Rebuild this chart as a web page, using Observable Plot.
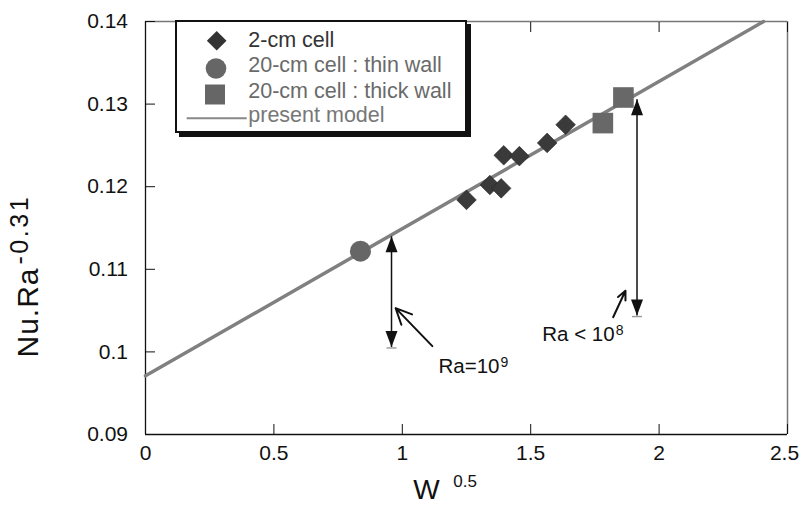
<!DOCTYPE html>
<html><head><meta charset="utf-8">
<script src="https://cdn.jsdelivr.net/npm/d3@7"></script>
<script src="https://cdn.jsdelivr.net/npm/@observablehq/plot@0.6"></script>
<style>
html,body{margin:0;padding:0;background:#fff;}
#chart{width:800px;height:506px;position:relative;}
</style></head><body><div id="chart"></div>
<script>
// ---- data ----
const cell2X = [1.250, 1.341, 1.385, 1.395, 1.456, 1.564, 1.636];
const cell2Y = [0.1184, 0.1202, 0.1198, 0.1238, 0.1237, 0.1253, 0.1275];
const thinX = [0.837];
const thinY = [0.1122];
const thickX = [1.781, 1.861];
const thickY = [0.1277, 0.1308];
const modelX = [0, 2.407];
const modelY = [0.0971, 0.14];
const rangeX = [0.958, 1.914];
const rangeLow = [0.1006, 0.1044];
const rangeHigh = [0.1140, 0.1306];
const pointerFromX = [1.117, 1.821];
const pointerFromY = [0.1007, 0.1042];
const pointerToX = [0.974, 1.869];
const pointerToY = [0.1053, 0.1074];
const noteText = ["Ra=10^9", "Ra < 10^8"];
const noteX = [1.141, 1.545];
const noteY = [0.0974, 0.1013];
const xTicks = [0, 0.5, 1, 1.5, 2, 2.5];
const xTickLabels = ["0", "0.5", "1", "1.5", "2", "2.5"];
const yTicks = [0.09, 0.10, 0.11, 0.12, 0.13, 0.14];
const yTickLabels = ["0.09", "0.1", "0.11", "0.12", "0.13", "0.14"];
const xLabel = "W^0.5";
const yLabel = "Nu.Ra^-0.31";
const legendLabels = ["2-cm cell", "20-cm cell : thin wall", "20-cm cell : thick wall", "present model"];

// ---- build tables ----
const cell2 = cell2X.map((x, i) => ({x, y: cell2Y[i]}));
const thin = thinX.map((x, i) => ({x, y: thinY[i]}));
const thick = thickX.map((x, i) => ({x, y: thickY[i]}));
const model = modelX.map((x, i) => ({x, y: modelY[i]}));
const ranges = rangeX.map((x, i) => ({x, lo: rangeLow[i], hi: rangeHigh[i]}));
const pointers = pointerFromX.map((x, i) => ({x1: x, y1: pointerFromY[i], x2: pointerToX[i], y2: pointerToY[i]}));
const notes = noteText.map((t, i) => ({t, x: noteX[i], y: noteY[i]}));

// custom symbols (pixel sizes)
const diamondSym = {draw(c){c.moveTo(0,-9.8);c.lineTo(9.8,0);c.lineTo(0,9.8);c.lineTo(-9.8,0);c.closePath();}};
const squareSym = {draw(c){c.rect(-10.3,-10.3,20.6,20.6);}};
const headUp = {draw(c){c.moveTo(0,0);c.lineTo(6,16);c.lineTo(-6,16);c.closePath();}};
const headDown = {draw(c){c.moveTo(0,0);c.lineTo(6,-16);c.lineTo(-6,-16);c.closePath();}};
const footTick = {draw(c){c.rect(-5,0.3,10,1.4);}};

const FONT = "'Liberation Sans', Arial, Helvetica, sans-serif";

const plot = Plot.plot({
  width: 800, height: 506,
  marginLeft: 145, marginRight: 13, marginTop: 21, marginBottom: 72,
  style: {fontFamily: FONT, background: "#fff", color: "#111"},
  x: {domain: [0, 2.5]},
  y: {domain: [0.09, 0.14]},
  marks: [
    Plot.ruleX([2.5], {stroke: "#777", strokeWidth: 1.5}),
    Plot.ruleY([0.14], {stroke: "#777", strokeWidth: 1.5}),
    Plot.ruleX([0], {stroke: "#111", strokeWidth: 1.3}),
    Plot.ruleY([0.09], {stroke: "#111", strokeWidth: 1.3}),
    Plot.axisX({ticks: xTicks, tickSize: -10, tickPadding: 20.5, fontSize: 21, label: null,
      tickFormat: d => xTickLabels[xTicks.indexOf(d)]}),
    Plot.axisX({anchor: "top", ticks: xTicks, tickSize: -10, tickFormat: () => "", label: null}),
    Plot.axisY({ticks: yTicks, tickSize: -10, tickPadding: 27.5, fontSize: 21, label: null,
      tickFormat: d => yTickLabels[yTicks.findIndex(t => Math.abs(t - d) < 1e-9)]}),
    Plot.line(model, {x: "x", y: "y", stroke: "#808080", strokeWidth: 3.5}),
    Plot.link(ranges, {x1: "x", x2: "x", y1: "lo", y2: "hi", stroke: "#111", strokeWidth: 1.5}),
    Plot.arrow(pointers, {x1: "x1", y1: "y1", x2: "x2", y2: "y2", stroke: "#111", strokeWidth: 2,
      headLength: 14, headAngle: 50}),
    Plot.dot(cell2, {x: "x", y: "y", symbol: diamondSym, fill: "#3a3a3a", stroke: "#222", strokeWidth: 0.6}),
    Plot.dot(thin, {x: "x", y: "y", r: 10.5, fill: "#666", stroke: null}),
    Plot.dot(thick, {x: "x", y: "y", symbol: squareSym, fill: "#686868", stroke: null}),
    Plot.dot(ranges, {x: "x", y: "hi", symbol: headUp, fill: "#111", stroke: null}),
    Plot.dot(ranges, {x: "x", y: "lo", symbol: headDown, fill: "#111", stroke: null}),
    Plot.dot(ranges, {x: "x", y: "lo", symbol: footTick, fill: "#999", stroke: null}),
    Plot.text(notes, {x: "x", y: "y", text: "t", textAnchor: "start", lineAnchor: "bottom", fontSize: 20.5, fill: "#111"}),
    Plot.text([xLabel], {frameAnchor: "bottom-left", dx: 267.7, dy: 64.5, textAnchor: "start", lineAnchor: "bottom", fontSize: 28, fill: "#111"}),
    Plot.text([yLabel], {frameAnchor: "left", rotate: -90, dx: -108, dy: 129.5, textAnchor: "start", lineAnchor: "bottom", fontSize: 30, fill: "#111"})
  ]
});

// superscripts
const supStyle = {
  "W^0.5": {size: 17, dy: -11.7, dx: 13.7, ls: 0, baseLs: 0},
  "Nu.Ra^-0.31": {size: 25, dy: -10, dx: 3, ls: 2.5, baseLs: 1},
  "Ra=10^9": {size: 14, dy: -6.5, dx: 1, ls: 0, baseLs: 0},
  "Ra < 10^8": {size: 14, dy: -6.5, dx: 1, ls: 0, baseLs: 0}
};
d3.select(plot).selectAll("text").each(function() {
  const s = this.textContent;
  if (s === "2.5") { this.setAttribute("dx", -3); return; }
  if (!s.includes("^")) return;
  const [base, sup] = s.split("^");
  const st = supStyle[s] || {size: 14, dy: -6, dx: 1, ls: 0, baseLs: 0};
  this.textContent = "";
  d3.select(this).append("tspan").attr("letter-spacing", st.baseLs).text(base);
  d3.select(this).append("tspan").attr("font-size", st.size).attr("letter-spacing", st.ls)
    .attr("dy", st.dy).attr("dx", st.dx).text(sup);
});

// legend
const svg = d3.select(plot);
const lg = svg.append("g").attr("font-family", FONT).attr("text-anchor", "start");
lg.append("rect").attr("x", 179).attr("y", 24).attr("width", 292).attr("height", 113).attr("fill", "#111");
lg.append("rect").attr("x", 176).attr("y", 21).attr("width", 290).attr("height", 111).attr("fill", "#fff").attr("stroke", "#111").attr("stroke-width", 2);
const legSym = [
  {type: diamondSym, fill: "#333", cx: 216.7, cy: 40.7},
  {type: {draw(c){c.arc(0,0,10.3,0,2*Math.PI);}}, fill: "#666", cx: 216, cy: 68.5},
  {type: {draw(c){c.rect(-10,-10,20,20);}}, fill: "#666", cx: 215, cy: 94.5}
];
legSym.forEach(d => {
  lg.append("path").attr("d", d3.symbol(d.type, 64)()).attr("fill", d.fill).attr("transform", `translate(${d.cx},${d.cy})`);
});
lg.append("line").attr("x1", 186.7).attr("x2", 246.7).attr("y1", 118.3).attr("y2", 118.3).attr("stroke", "#888").attr("stroke-width", 2);
const legBase = [46.5, 72, 97.5, 122];
const legColor = ["#333", "#6a6a6a", "#6a6a6a", "#777"];
legendLabels.forEach((t, i) => {
  lg.append("text").attr("x", 248.3).attr("y", legBase[i]).attr("font-size", 21.5).attr("fill", legColor[i]).attr("text-anchor", "start").text(t);
});

document.getElementById("chart").appendChild(plot);
</script>
</body></html>
